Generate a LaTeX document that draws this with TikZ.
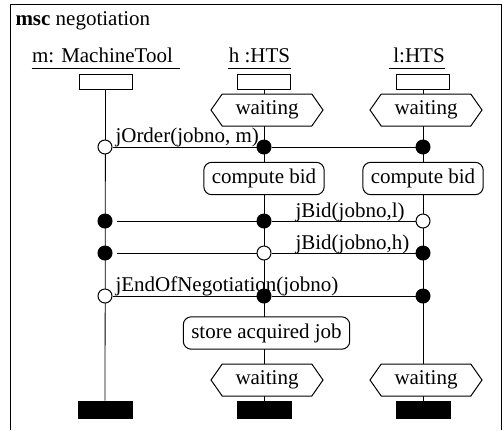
\documentclass[tikz,border=0pt]{standalone}
\usepackage{fontspec}
\setmainfont{Liberation Serif}
\usetikzlibrary{shapes,positioning,calc,backgrounds}

\begin{document}
\begin{tikzpicture}[x=0.5pt, y=-0.5pt, line width=0.5pt,
    font=\fontsize{10.5}{12}\selectfont,
    inst/.style={draw, fill=white, minimum width=26.5pt, minimum height=7.5pt, inner sep=0pt},
    stopbar/.style={draw, fill=black, minimum width=27pt, minimum height=8.5pt, inner sep=0pt},
    cond/.style={draw, fill=white, signal, signal to=west and east, signal pointer angle=110, minimum width=56pt, minimum height=16pt, inner sep=1pt},
    act/.style={draw, fill=white, rounded corners=4pt, minimum height=15.5pt, inner xsep=4pt},
    snd/.style={circle, draw, fill=white, minimum size=7pt, inner sep=0pt},
    rcv/.style={circle, draw, fill=black, minimum size=7pt, inner sep=0pt},
    msg/.style={inner sep=0pt, anchor=base west}]
    \useasboundingbox (0,0) rectangle (502,430);
    \draw (10,430) -- (10,4) -- (501,4) -- (501,430);
    \node[anchor=base west, inner sep=0pt] (title) at (15,25) {\textbf{msc} negotiation};

    % instance heads
    \node[anchor=base, inner sep=0pt] (mhead) at (102.5,62) {m: MachineTool};
    \node[anchor=base, inner sep=0pt] (hhead) at (259.5,62) {h :HTS};
    \node[anchor=base, inner sep=0pt] (lhead) at (419,62) {l:HTS};
    \draw ([yshift=-3pt]mhead.base west) -- ([yshift=-3pt, xshift=3.5pt]mhead.base east);
    \draw ([yshift=-3pt]hhead.base west) -- ([yshift=-3pt]hhead.base east);
    \draw ([yshift=-3pt, xshift=-2pt]lhead.base west) -- ([yshift=-3pt]lhead.base east);
    \node[inst] (mbox) at (105.5,81.5) {};
    \node[inst] (hbox) at (264,81.5) {};
    \node[inst] (lbox) at (423,81.5) {};

    % states and actions
    \node[cond] (hwait1) at (267,110) {waiting};
    \node[cond] (lwait1) at (426,110) {waiting};
    \node[act] (hcomp) at (264,178.5) {compute bid};
    \node[act] (lcomp) at (423,178.5) {compute bid};
    \node[act] (hstore) at (266.5,333) {store acquired job};
    \node[cond] (hwait2) at (267,380) {waiting};
    \node[cond] (lwait2) at (426,380) {waiting};

    % send and receive events
    \node[snd] (msnd1) at (105,147) {};
    \node[rcv] (hrcv1) at (264,147) {};
    \node[rcv] (lrcv1) at (423,147) {};
    \node[rcv] (mrcv2) at (105,221) {};
    \node[rcv] (hrcv2) at (264,221) {};
    \node[snd] (lsnd2) at (423,221) {};
    \node[rcv] (mrcv3) at (105,253) {};
    \node[snd] (hsnd3) at (264,253) {};
    \node[rcv] (lrcv3) at (423,253) {};
    \node[snd] (msnd4) at (105,296) {};
    \node[rcv] (hrcv4) at (264,296) {};
    \node[rcv] (lrcv4) at (423,296) {};

    % instance ends
    \node[stopbar] (mend) at (105,409.5) {};
    \node[stopbar] (hend) at (264,409.5) {};
    \node[stopbar] (lend) at (423,409.5) {};

    % lifelines
    \begin{scope}[on background layer]
        \draw (mbox) -- (mend);
        \draw (hbox) -- (hend);
        \draw (lbox) -- (lend);
    \end{scope}

    % messages
    \draw (msnd1) -- (hrcv1) -- (lrcv1);
    \draw[shorten >=2pt] (lsnd2) -- (hrcv2) -- (mrcv2);
    \draw[shorten >=2pt] (hsnd3) -- (mrcv3);
    \draw (hsnd3) -- (lrcv3);
    \draw (msnd4) -- (hrcv4) -- (lrcv4);
    \node[msg] (ordlab) at (115,142) {jOrder(jobno, m)};
    \node[msg] (bidllab) at (295,217) {jBid(jobno,l)};
    \node[msg] (bidhlab) at (295,249) {jBid(jobno,h)};
    \node[msg] (endlab) at (115,291) {jEndOfNegotiation(jobno)};
\end{tikzpicture}
\end{document}
